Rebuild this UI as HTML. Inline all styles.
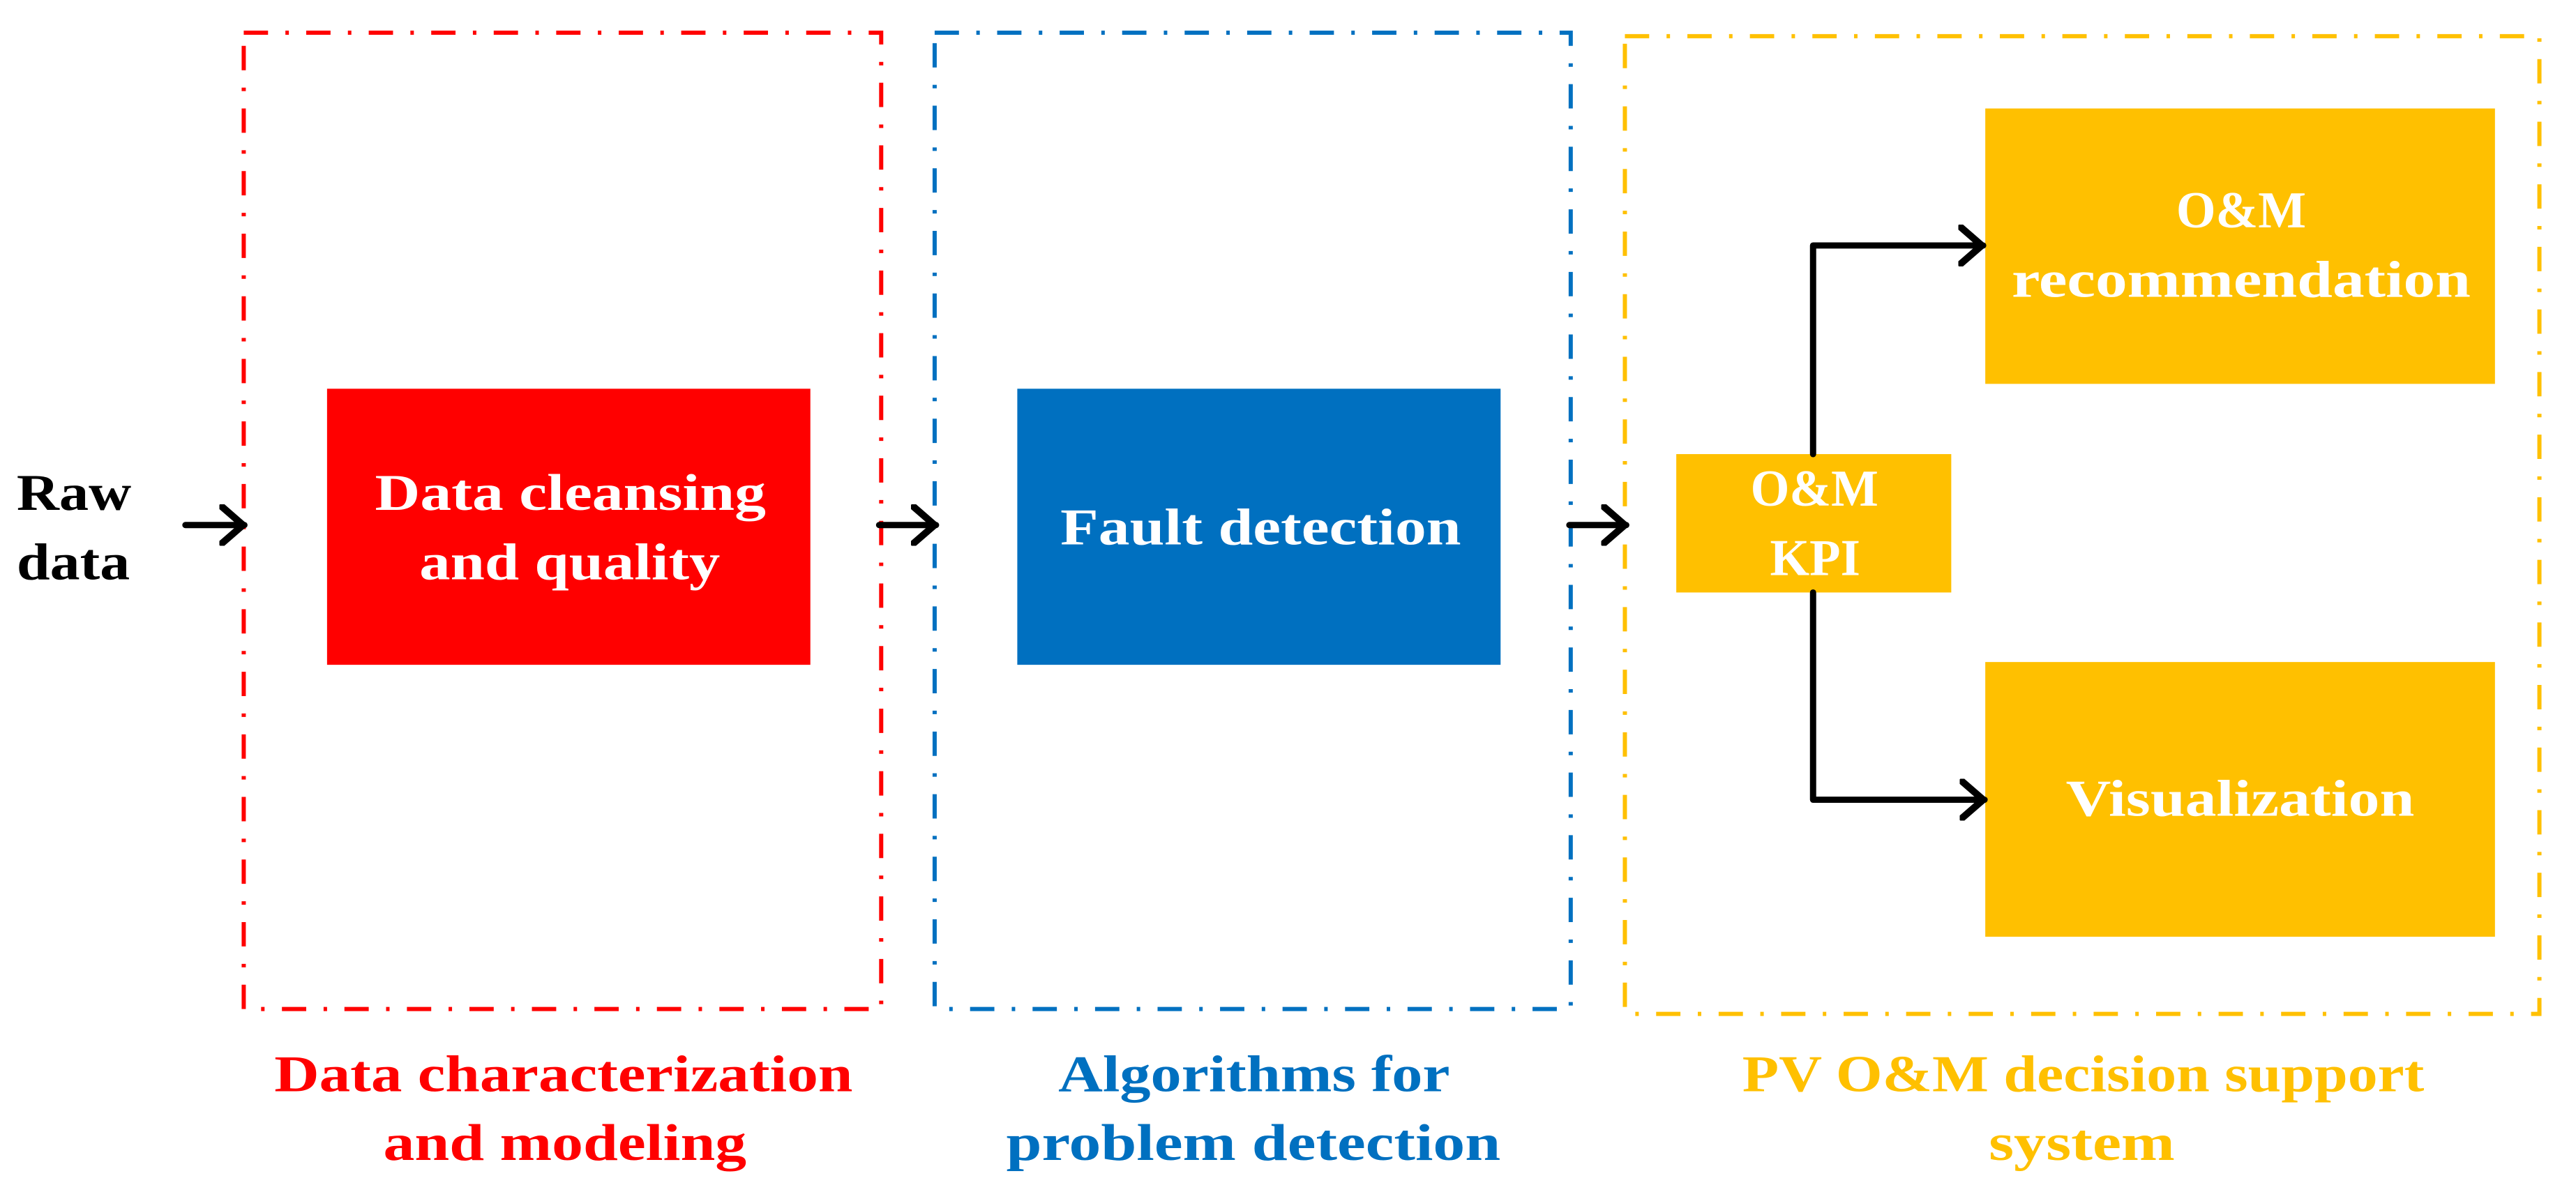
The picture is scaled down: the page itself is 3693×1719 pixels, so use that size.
<!DOCTYPE html>
<html><head><meta charset="utf-8"><style>
html,body{margin:0;padding:0;background:#fff;}
svg{display:block;}
text{font-family:"Liberation Serif",serif;font-weight:bold;font-size:74px;}
</style></head><body>
<svg width="3693" height="1719" viewBox="0 0 3693 1719" xmlns="http://www.w3.org/2000/svg">
<defs>
<marker id="ah" viewBox="0 0 40 60" refX="36" refY="30" markerWidth="40" markerHeight="60" markerUnits="userSpaceOnUse" orient="auto">
<polyline points="4,4 34,30 4,56" fill="none" stroke="#000" stroke-width="10" stroke-linecap="round" stroke-linejoin="round"/>
</marker>
</defs>
<g transform="scale(0.9955 0.997)">
<g fill="none" stroke-width="6" stroke-dasharray="35 25 5 25" stroke-linecap="butt">
<rect x="351" y="47" width="918" height="1404" stroke="#FF0000"/>
<rect x="1346" y="47" width="916" height="1404" stroke="#0070C0"/>
<rect x="2340" y="52" width="1317" height="1406" stroke="#FFC000"/>
</g>
<rect x="471" y="559" width="696" height="397" fill="#FF0000"/>
<rect x="1465" y="559" width="696" height="397" fill="#0070C0"/>
<rect x="2414" y="653" width="396" height="199" fill="#FFC000"/>
<rect x="2859" y="156" width="734" height="396" fill="#FFC000"/>
<rect x="2859" y="952" width="734" height="395" fill="#FFC000"/>
<g stroke="#000" stroke-width="9" fill="none" stroke-linecap="round" stroke-linejoin="round">
<line x1="267" y1="755" x2="352" y2="755" marker-end="url(#ah)"/>
<line x1="1266" y1="755" x2="1348" y2="755" marker-end="url(#ah)"/>
<line x1="2260" y1="755" x2="2342" y2="755" marker-end="url(#ah)"/>
<polyline points="2611,653 2611,353 2856,353" marker-end="url(#ah)"/>
<polyline points="2611,852 2611,1150 2858,1150" marker-end="url(#ah)"/>
</g>
<g fill="#000">
<text x="24" y="733" textLength="165" lengthAdjust="spacingAndGlyphs">Raw</text>
<text x="24" y="833" textLength="163" lengthAdjust="spacingAndGlyphs">data</text>
</g>
<g fill="#fff">
<text x="540" y="733" textLength="563" lengthAdjust="spacingAndGlyphs">Data cleansing</text>
<text x="604" y="833" textLength="433" lengthAdjust="spacingAndGlyphs">and quality</text>
<text x="1527" y="783" textLength="577" lengthAdjust="spacingAndGlyphs">Fault detection</text>
<text x="2521" y="727" textLength="184" lengthAdjust="spacingAndGlyphs">O&amp;M</text>
<text x="2549" y="827" textLength="130" lengthAdjust="spacingAndGlyphs">KPI</text>
<text x="3134" y="327" textLength="187" lengthAdjust="spacingAndGlyphs">O&amp;M</text>
<text x="2897" y="427" textLength="661" lengthAdjust="spacingAndGlyphs">recommendation</text>
<text x="2975" y="1173" textLength="502" lengthAdjust="spacingAndGlyphs">Visualization</text>
</g>
<g fill="#FF0000">
<text x="395" y="1569" textLength="833" lengthAdjust="spacingAndGlyphs">Data characterization</text>
<text x="552" y="1668" textLength="523" lengthAdjust="spacingAndGlyphs">and modeling</text>
</g>
<g fill="#0070C0">
<text x="1524" y="1569" textLength="564" lengthAdjust="spacingAndGlyphs">Algorithms for</text>
<text x="1449" y="1668" textLength="712" lengthAdjust="spacingAndGlyphs">problem detection</text>
</g>
<g fill="#FFC000">
<text x="2509" y="1569" textLength="982" lengthAdjust="spacingAndGlyphs">PV O&amp;M decision support</text>
<text x="2864" y="1668" textLength="268" lengthAdjust="spacingAndGlyphs">system</text>
</g>
</g>
</svg>
</body></html>
